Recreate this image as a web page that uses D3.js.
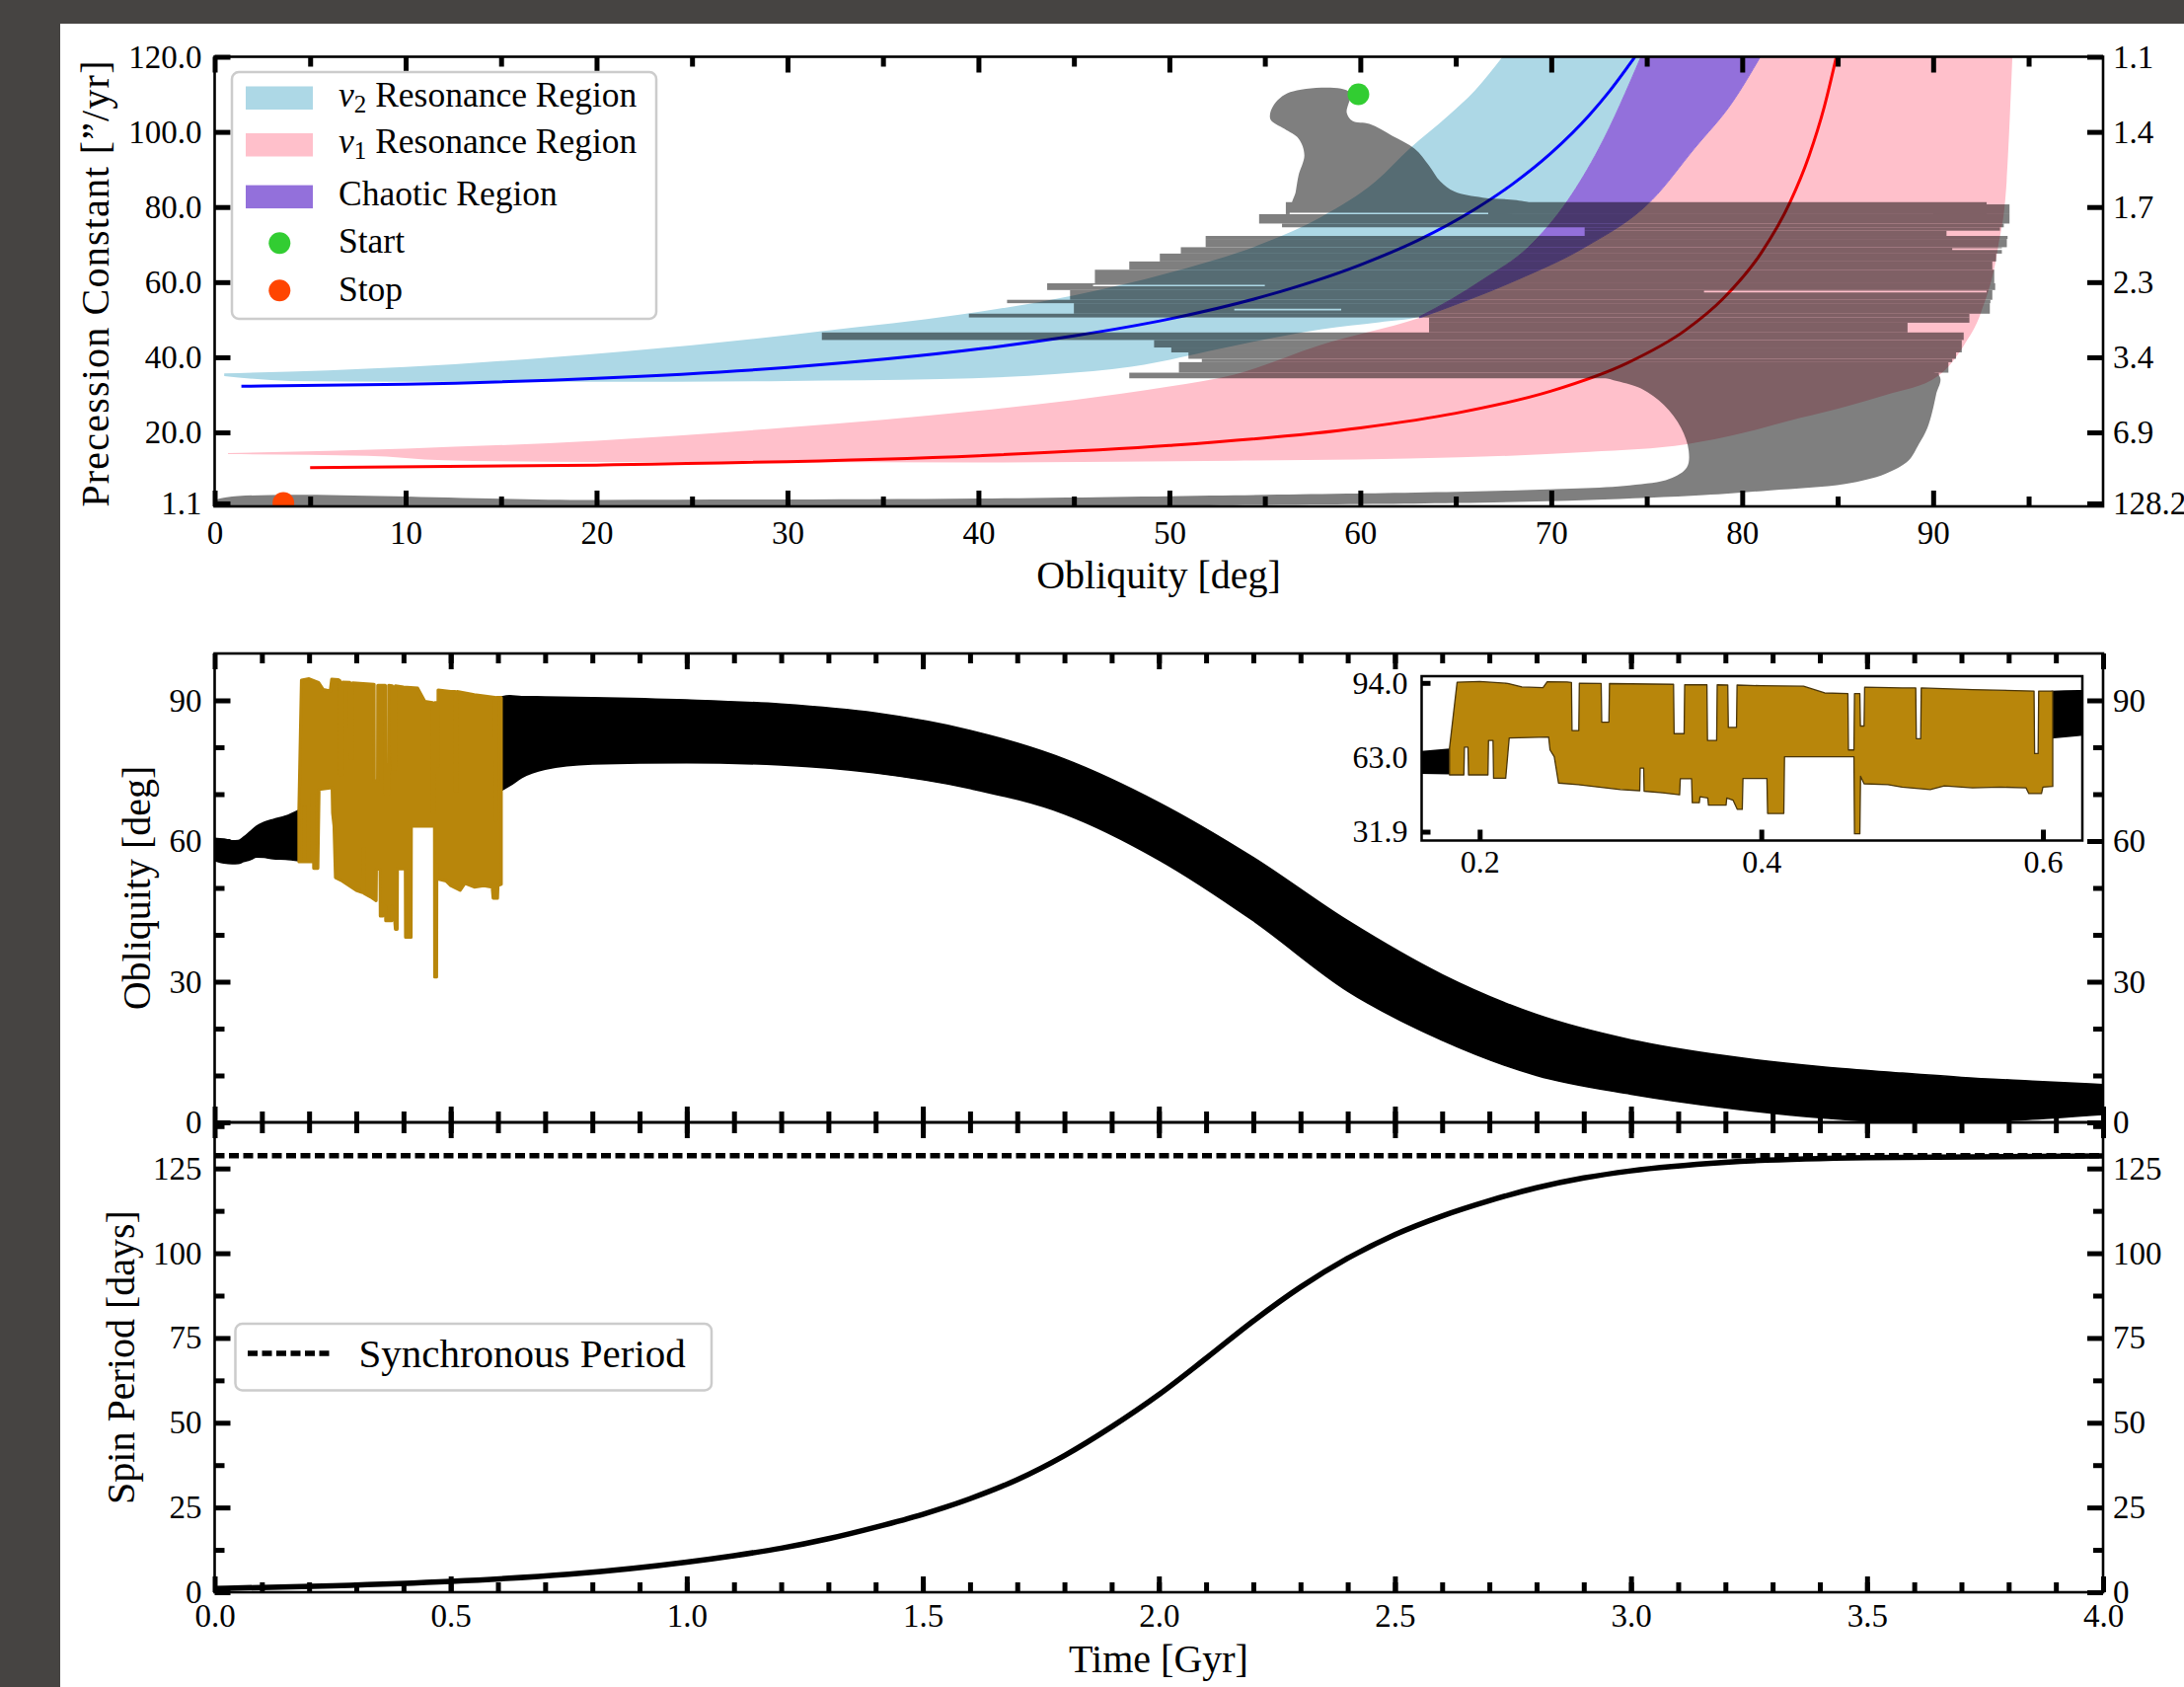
<!DOCTYPE html>
<html>
<head>
<meta charset="utf-8">
<script src="https://cdnjs.cloudflare.com/ajax/libs/d3/7.8.5/d3.min.js"></script>
<style>
  body { margin: 0; background: #464442; overflow: hidden; }
  svg { display: block; }
</style>
</head>
<body>
<script>
// ---- top panel: obliquity [deg] vs precession constant ["/yr]
var precTicks = [1.1, 20, 40, 60, 80, 100, 120];
var precTickLabels = ["1.1", "20.0", "40.0", "60.0", "80.0", "100.0", "120.0"];
var periodTickLabels = ["128.2", "6.9", "3.4", "2.3", "1.7", "1.4", "1.1"];
var oblTicks = [0, 10, 20, 30, 40, 50, 60, 70, 80, 90];
var oblMinor = [5, 15, 25, 35, 45, 55, 65, 75, 85, 95];

// resonance band edges, [obliquity, precession constant]
var nu2Upper = [[0.5,35.7],[10,37.4],[17.6,40.0],[25,43.2],[31.9,47.0],[39.1,51.4],[45,56.5],[50,62.5],[55,70.5],[58,77.5],[60.8,86.8],[62.6,95.6],[64.6,104.3],[66,111],[67.45,120]];
var nu2Lower = [[0.5,35.0],[4,33.7],[10,33.5],[20,33.5],[30,33.7],[38,34.2],[44,35.5],[48,37.5],[53.4,43.1],[58,47.5],[61,49.3],[63.1,50.8],[64.8,55.5],[66.4,60.6],[68.8,69.3],[70.9,82],[72.5,95.6],[74.7,120]];
var nu1Upper = [[0.7,14.5],[10,15.7],[20,17.8],[30,21.3],[40,25.8],[45,28.6],[50,32.2],[53.4,35.4],[57.8,43.1],[63.1,50.5],[68.2,60.6],[71.75,69.3],[75.3,82.0],[77.5,95.6],[79.5,108],[80.95,120]];
var nu1Lower = [[0.7,14.2],[8,13.8],[12,12.6],[20,12.1],[40,12.0],[53.4,12.45],[65.2,13.35],[72,14.8],[77.1,16.85],[80,19.8],[83,23.8],[85.5,27.0],[87.5,29.96],[90.3,35.2],[91.6,43.1],[92.5,51.8],[93.4,69.3],[93.85,86.8],[94.15,120]];
// resonance centres
var nu2Centre = [[1.4,32.3],[10,32.8],[20,34.4],[30,37.3],[40,42.2],[45,45.7],[50,50.2],[55,56.3],[60,64.6],[63,71.1],[66,79.4],[68,86.2],[70,94.4],[72,104.5],[73,110.5],[74.4,120.1]];
var nu1Centre = [[5,10.6],[20,11.3],[40,13.8],[50,16.5],[60,21.2],[65,25.1],[70,31.0],[74,38.5],[77,47.1],[79,55.6],[81,67.8],[82.5,81.2],[83.5,93.6],[84.3,106.7],[84.95,120.4]];

// spin-axis trajectory: head outline, horizontal strips [pLow, pHigh, oblLeft, oblRight], lower outline
var trajHead = [[56.33,110.6],[55.44,106.9],[55.29,103.4],[56.03,100.8],[56.77,98.2],[57.07,93.8],[56.77,88.5],[56.62,84.1],[56.47,79.5],[70,79.5],[68.19,81.8],[66.41,82.5],[64.93,84.1],[64.19,86.8],[63.59,91.1],[62.85,95.5],[61.66,99.0],[60.48,102.1],[59.59,102.9],[59.29,105.1],[59.44,110.6]];
var trajRows = [
  [78.1,81.3,56.1,92.8],[78.1,80.7,90,94.0],[75.6,78.1,54.7,94.0],[74.6,75.6,55.9,93.7],
  [73.7,74.6,71.75,93.5],[72.3,73.7,71.75,90.7],[71.5,72.3,51.9,93.9],[69.3,71.5,51.9,93.86],
  [67.6,69.3,50.6,93.6],[65.5,67.6,49.5,93.3],[63.3,65.5,47.9,93.1],[59.7,63.3,46.1,93.2],
  [57.9,59.7,43.6,93.25],[55.3,57.9,44.8,93.1],[54.4,55.3,41.5,93.0],[51.6,54.4,45.0,92.97],
  [50.6,51.6,39.5,91.9],[49.2,50.6,63.6,91.9],[46.6,49.2,63.6,88.66],[44.6,46.6,31.8,91.6],
  [42.6,44.6,49.2,91.5],[41.3,42.6,50.1,91.5],[39.6,41.3,51.0,91.2],[38.7,39.6,51.7,91.0],
  [35.9,38.7,50.5,90.8],[34.4,35.9,47.9,90.3]
];
// thin empty lines inside the trajectory [p, oblLeft, oblRight]
var trajGaps = [[78.3,56.3,66.7],[59.1,46.0,55.0],[57.5,78.0,92.8],[52.7,53.4,59.0],[68.8,91.0,94.0]];
var trajLower = [[72.6,35.2],[90.3,35.2],[90.15,29.96],[89.7,21.2],[89.25,16.85],[88.7,12.45],[87.5,9.0],[85.4,6.3],[81.5,4.6],[78,3.3],[72,2.0],[65,1.2],[55,0.7],[0,0.4],[0,1.8],[20,2.0],[40,2.4],[53.4,3.27],[59.3,3.7],[68.2,4.6],[74.1,5.9],[76.2,7.65],[77.1,10.7],[77.2,15.1],[76.8,21.2],[75.9,27.3],[74.7,31.7]];
var startPoint = [59.9, 110.0];
var stopPoint = [3.6, 1.2];

// ---- middle panel: obliquity vs time, [t, high, low]
var preChaos = [[0,60.6,55.85],[0.02,60.4,55.3],[0.037,60.06,55.15],[0.05,60.1,55.2],[0.061,60.8,55.6],[0.075,62.0,56.0],[0.089,63.2,56.6],[0.105,64.0,56.5],[0.124,64.6,56.2],[0.15,65.3,56.1],[0.1786,66.6,55.8]];
var postChaos = [[0.606,90.7,70.7],[0.625,91.0,71.8],[0.65,90.8,73.5],[0.7,90.75,75.3],[0.8,90.6,76.4],[1.0,90.1,76.7],[1.2,89.2,76.2],[1.4,87.3,74.5],[1.6,83.6,71.2],[1.8,77.5,65.8],[2.0,68.2,56.0],[2.2,56.5,43.0],[2.4,43.0,28.0],[2.6,31.5,17.5],[2.8,23.0,10.0],[3.0,17.6,6.0],[3.2,14.2,3.1],[3.4,11.9,1.0],[3.55,10.7,0.1],[3.7,9.6,0.0],[3.85,8.8,0.7],[4.0,8.05,1.7]];
// chaotic stretch, upper and lower envelope [t, obliquity]
var chaosTop = [[0.1786,66.8],[0.1840,94.3],[0.2000,94.6],[0.2200,93.8],[0.2300,92.3],[0.2450,92.0],[0.2480,94.5],[0.2620,94.4],
  [0.2652,94.2],[0.2656,74.1],[0.2704,74.1],[0.2708,93.9],[0.2863,93.8],[0.2867,77.6],[0.2918,77.6],[0.2922,93.7],
  [0.3377,93.4],[0.3381,72.8],[0.3452,72.8],[0.3456,93.2],[0.3614,93.2],[0.3618,70.0],[0.3683,70.0],[0.3687,93.2],
  [0.3762,93.1],[0.3766,75.4],[0.3824,75.4],[0.3828,93.1],[0.4000,92.8],[0.4300,92.6],[0.4450,89.8],[0.4615,89.5],
  [0.4619,66.0],[0.4658,66.0],[0.4662,89.5],[0.4700,89.5],[0.4704,76.0],[0.4730,76.0],[0.4734,92.2],[0.5000,91.9],
  [0.5097,91.9],[0.5101,70.7],[0.5132,70.7],[0.5136,91.9],[0.5500,91.2],[0.5937,90.6],[0.5941,64.5],[0.5966,64.5],
  [0.5970,90.6],[0.6070,90.6]];
var chaosBottom = [[0.1786,55.6],[0.1888,55.6],[0.1892,67.2],[0.1917,67.2],[0.1921,55.6],[0.2059,55.6],[0.2063,70.0],[0.2095,70.0],
  [0.2099,54.2],[0.2185,54.2],[0.2210,71.0],[0.2490,71.4],[0.2500,66.0],[0.2530,63.2],[0.2560,52.2],[0.2700,51.5],
  [0.2850,50.5],[0.3000,49.5],[0.3137,49.0],[0.3140,58.4],[0.3165,58.4],[0.3168,48.8],[0.3300,48.1],[0.3420,47.3],
  [0.3425,54.0],[0.3505,54.0],[0.3510,44.0],[0.3560,44.0],[0.3565,46.5],[0.3620,46.0],[0.3625,43.0],[0.3750,43.0],
  [0.3755,46.0],[0.3800,45.0],[0.3830,41.2],[0.3865,41.2],[0.3870,54.1],[0.4040,54.1],[0.4045,39.5],[0.4160,39.5],
  [0.4165,63.2],[0.4658,63.2],[0.4662,31.0],[0.4700,31.0],[0.4705,55.0],[0.4730,51.9],[0.4900,51.5],[0.5000,50.5],
  [0.5200,49.5],[0.5300,51.0],[0.5500,50.2],[0.5700,50.5],[0.5880,50.2],[0.5900,47.8],[0.5990,47.8],[0.6000,50.5],
  [0.6070,50.8]];
var midTicks = [0, 30, 60, 90];
var midMinor = [10, 20, 40, 50, 70, 80];
var insetYTicks = [31.9, 63.0, 94.0];
var insetXTicks = [0.2, 0.4, 0.6];

// ---- bottom panel: spin period vs time
var spinTime   = [0, 0.25, 0.5, 0.75, 1.0, 1.1, 1.2, 1.3, 1.4, 1.5, 1.6, 1.7, 1.8, 1.9, 2.0, 2.1, 2.2, 2.3, 2.4, 2.5, 2.6, 2.7, 2.8, 2.9, 3.0, 3.2, 3.5, 4.0];
var spinPeriod = [1.1, 1.9, 3.2, 5.3, 8.9, 10.8, 13.0, 15.8, 19.2, 23.0, 27.6, 33.2, 40.3, 48.8, 58.3, 69.0, 80.0, 90.0, 98.5, 105.5, 111.0, 115.5, 119.3, 122.2, 124.3, 126.8, 128.2, 128.7];
var syncPeriod = 128.8;
var timeTicks = [0, 0.5, 1.0, 1.5, 2.0, 2.5, 3.0, 3.5, 4.0];
var spinTicks = [0, 25, 50, 75, 100, 125];
var spinMinor = [12.5, 37.5, 62.5, 87.5, 112.5, 137.5];

var legendLabels = ["Resonance Region", "Resonance Region", "Chaotic Region", "Start", "Stop"];
var legendSubs = ["2", "1"];

var W = 2213, H = 1709;
var FONT = "'Liberation Serif', 'DejaVu Serif', serif";
var L = 217.5, R = 2131;

var svg = d3.select("body").append("svg").attr("width", W).attr("height", H);
svg.append("rect").attr("width", W).attr("height", H).attr("fill", "#464442");
svg.append("rect").attr("x", 61).attr("y", 24).attr("width", W - 61).attr("height", H - 24).attr("fill", "#fff");

var xObl = d3.scaleLinear().domain([0, 98.9]).range([L, R]);
var yPrec = d3.scaleLinear().domain([0.3, 120]).range([513, 57.5]);
var xTime = d3.scaleLinear().domain([0, 4]).range([L, R]);
var yObl = d3.scaleLinear().domain([0, 100]).range([1137, 662]);
var ySpin = d3.scaleLinear().domain([0, 138.6]).range([1613, 1137]);
var xIn = d3.scaleLinear().domain([0.1588, 0.628]).range([1440.5, 2110]);
var yIn = d3.scaleLinear().domain([28.2, 96.8]).range([851.5, 685]);

var defs = svg.append("defs");
function clip(id, x0, y0, x1, y1) {
  defs.append("clipPath").attr("id", id).append("rect")
    .attr("x", x0).attr("y", y0).attr("width", x1 - x0).attr("height", y1 - y0);
}
clip("cTop", L, 57.5, R, 513);
clip("cMid", L, 662, R, 1137);
clip("cBot", L, 1137, R, 1613);
clip("cIn", 1440.5, 685, 2110, 851.5);

// mask that opens the thin gaps of the trajectory
var mask = defs.append("mask").attr("id", "trajMask").attr("maskUnits", "userSpaceOnUse")
  .attr("x", 0).attr("y", 0).attr("width", W).attr("height", H);
mask.append("rect").attr("width", W).attr("height", H).attr("fill", "#fff");
mask.selectAll("line").data(trajGaps).join("line")
  .attr("x1", function(d) { return xObl(d[1]); }).attr("x2", function(d) { return xObl(d[2]); })
  .attr("y1", function(d) { return yPrec(d[0]); }).attr("y2", function(d) { return yPrec(d[0]); })
  .attr("stroke", "#000").attr("stroke-width", 1.6);

// ---------- top panel
var smooth = d3.line().curve(d3.curveMonotoneX).x(function(d) { return xObl(d[0]); }).y(function(d) { return yPrec(d[1]); });
var round = d3.line().curve(d3.curveCatmullRomClosed.alpha(0.5)).x(function(d) { return xObl(d[0]); }).y(function(d) { return yPrec(d[1]); });

function band(upper, lower) {
  var a = smooth(upper), b = smooth(lower.slice().reverse());
  return a + "L" + b.slice(1) + "Z";
}

var gTop = svg.append("g").attr("clip-path", "url(#cTop)");
gTop.append("path").attr("d", band(nu2Upper, nu2Lower)).attr("fill", "#add8e6");
gTop.append("path").attr("d", band(nu1Upper, nu1Lower)).attr("fill", "#ffc0cb");
gTop.append("path")
  .attr("d", band(nu2Lower.filter(function(d) { return d[0] >= 63.1; }), nu1Upper.filter(function(d) { return d[0] >= 63.1; })))
  .attr("fill", "#9370db").attr("stroke", "#9370db").attr("stroke-width", 1);
gTop.append("path").attr("d", smooth(nu2Centre)).attr("fill", "none").attr("stroke", "#0000ff").attr("stroke-width", 3);
gTop.append("path").attr("d", smooth(nu1Centre)).attr("fill", "none").attr("stroke", "#ff0000").attr("stroke-width", 3);

var gTraj = gTop.append("g").attr("mask", "url(#trajMask)").append("g").attr("opacity", 0.5).attr("fill", "#000");
gTraj.append("path").attr("d", round(trajHead));
gTraj.selectAll("rect").data(trajRows).join("rect")
  .attr("x", function(d) { return xObl(d[2]); })
  .attr("y", function(d) { return yPrec(d[1]); })
  .attr("width", function(d) { return xObl(d[3]) - xObl(d[2]); })
  .attr("height", function(d) { return yPrec(d[0]) - yPrec(d[1]); });
gTraj.append("path").attr("d", round(trajLower));

gTop.append("circle").attr("cx", xObl(startPoint[0])).attr("cy", yPrec(startPoint[1])).attr("r", 11).attr("fill", "#32cd32");
gTop.append("circle").attr("cx", xObl(stopPoint[0])).attr("cy", yPrec(stopPoint[1])).attr("r", 11).attr("fill", "#ff4500");

// ---------- middle panel
var areaMid = d3.area().curve(d3.curveMonotoneX)
  .x(function(d) { return xTime(d[0]); })
  .y0(function(d) { return yObl(d[2]); })
  .y1(function(d) { return yObl(d[1]); });
var chaosMid = d3.line().x(function(d) { return xTime(d[0]); }).y(function(d) { return yObl(d[1]); });
var chaosPoly = chaosTop.concat(chaosBottom.slice().reverse());

var gMid = svg.append("g").attr("clip-path", "url(#cMid)");
gMid.append("path").attr("d", areaMid(preChaos)).attr("fill", "#000").attr("stroke", "#000").attr("stroke-width", 1.5);
gMid.append("path").attr("d", areaMid(postChaos)).attr("fill", "#000").attr("stroke", "#000").attr("stroke-width", 1.5);
gMid.append("path").attr("d", chaosMid(chaosPoly) + "Z").attr("fill", "#b8860b")
  .attr("stroke", "#b8860b").attr("stroke-width", 3.2).attr("stroke-linejoin", "round");

// ---------- bottom panel
var gBot = svg.append("g").attr("clip-path", "url(#cBot)");
gBot.append("line").attr("x1", xTime(0)).attr("x2", xTime(4))
  .attr("y1", ySpin(syncPeriod)).attr("y2", ySpin(syncPeriod))
  .attr("stroke", "#000").attr("stroke-width", 5.5).attr("stroke-dasharray", "10,4.5");
var spinLine = d3.line().curve(d3.curveMonotoneX)
  .x(function(d, i) { return xTime(spinTime[i]); })
  .y(function(d) { return ySpin(d); });
gBot.append("path").attr("d", spinLine(spinPeriod)).attr("fill", "none").attr("stroke", "#000").attr("stroke-width", 5.5);

// ---------- axes
function axis(gen, scale, vals, inner, pad, fmt, tx, ty, fs) {
  var a = gen(scale).tickValues(vals).tickSizeInner(-inner).tickSizeOuter(0).tickPadding(pad).tickFormat(fmt);
  var g = svg.append("g").attr("transform", "translate(" + tx + "," + ty + ")").call(a);
  g.select(".domain").remove();
  g.attr("font-family", FONT).attr("font-size", fs || 33);
  g.selectAll(".tick line").attr("stroke", "#000").attr("stroke-width", 5);
  g.selectAll(".tick text").attr("fill", "#000");
  return g;
}
var none = function() { return ""; };
var f1 = d3.format(".1f");

// top panel axes
axis(d3.axisBottom, xObl, oblTicks, 16, 15, d3.format("d"), 0, 513);
axis(d3.axisBottom, xObl, oblMinor, 10, 0, none, 0, 513);
axis(d3.axisTop, xObl, oblTicks, 16, 0, none, 0, 57.5);
axis(d3.axisTop, xObl, oblMinor, 10, 0, none, 0, 57.5);
axis(d3.axisLeft, yPrec, precTicks, 16, 13, function(d, i) { return precTickLabels[i]; }, L, 0);
axis(d3.axisRight, yPrec, precTicks, 16, 10, function(d, i) { return periodTickLabels[i]; }, R, 0);

// middle panel axes
axis(d3.axisTop, xTime, timeTicks, 16, 0, none, 0, 662);
axis(d3.axisTop, xTime, d3.range(0.1, 4, 0.1), 10, 0, none, 0, 662);
axis(d3.axisBottom, xTime, timeTicks, 16, 0, none, 0, 1137);
axis(d3.axisBottom, xTime, d3.range(0.1, 4, 0.1), 11, 0, none, 0, 1137);
axis(d3.axisLeft, yObl, midTicks, 16, 13, d3.format("d"), L, 0);
axis(d3.axisLeft, yObl, midMinor, 10, 0, none, L, 0);
axis(d3.axisRight, yObl, midTicks, 16, 10, d3.format("d"), R, 0);
axis(d3.axisRight, yObl, midMinor, 10, 0, none, R, 0);

// bottom panel axes
axis(d3.axisTop, xTime, timeTicks, 16, 0, none, 0, 1137);
axis(d3.axisTop, xTime, d3.range(0.1, 4, 0.1), 11, 0, none, 0, 1137);
axis(d3.axisBottom, xTime, timeTicks, 16, 12, f1, 0, 1613);
axis(d3.axisBottom, xTime, d3.range(0.1, 4, 0.1), 10, 0, none, 0, 1613);
axis(d3.axisLeft, ySpin, spinTicks, 16, 13, d3.format("d"), L, 0);
axis(d3.axisLeft, ySpin, spinMinor, 10, 0, none, L, 0);
axis(d3.axisRight, ySpin, spinTicks, 16, 10, d3.format("d"), R, 0);
axis(d3.axisRight, ySpin, spinMinor, 10, 0, none, R, 0);

// spines
[[57.5, 513], [662, 1137], [1137, 1613]].forEach(function(p) {
  svg.append("rect").attr("x", L).attr("y", p[0]).attr("width", R - L).attr("height", p[1] - p[0])
    .attr("fill", "none").attr("stroke", "#000").attr("stroke-width", 2.6);
});

// ---------- inset
svg.append("rect").attr("x", 1440.5).attr("y", 685).attr("width", 2110 - 1440.5).attr("height", 851.5 - 685).attr("fill", "#fff");
var areaIn = d3.area().curve(d3.curveMonotoneX)
  .x(function(d) { return xIn(d[0]); })
  .y0(function(d) { return yIn(d[2]); })
  .y1(function(d) { return yIn(d[1]); });
var chaosIn = d3.line().x(function(d) { return xIn(d[0]); }).y(function(d) { return yIn(d[1]); });
var gIn = svg.append("g").attr("clip-path", "url(#cIn)");
gIn.append("path").attr("d", areaIn(preChaos)).attr("fill", "#000");
gIn.append("path").attr("d", areaIn(postChaos)).attr("fill", "#000");
gIn.append("path").attr("d", chaosIn(chaosPoly) + "Z").attr("fill", "#b8860b")
  .attr("stroke", "#4a3508").attr("stroke-width", 1.3).attr("stroke-linejoin", "round");
axis(d3.axisLeft, yIn, insetYTicks, 9, 14, f1, 1440.5, 0, 32);
axis(d3.axisBottom, xIn, insetXTicks, 11, 10, f1, 0, 851.5, 32);
svg.append("rect").attr("x", 1440.5).attr("y", 685).attr("width", 2110 - 1440.5).attr("height", 851.5 - 685)
  .attr("fill", "none").attr("stroke", "#000").attr("stroke-width", 2.5);

// ---------- axis titles
function title(txt, x, y, rot, ls) {
  svg.append("text").attr("transform", "translate(" + x + "," + y + ")" + (rot ? " rotate(-90)" : ""))
    .attr("text-anchor", "middle").attr("font-family", FONT).attr("font-size", 40)
    .attr("letter-spacing", ls || 0).attr("fill", "#000").text(txt);
}
title("Obliquity [deg]", 1174, 596);
title("Time [Gyr]", 1174, 1694);
title("Precession Constant [\u201D/yr]", 110, 287, true, 1.2);
title("Obliquity [deg]", 152, 899.5, true);
title("Spin Period [days]", 136, 1375, true);

// ---------- top legend
var leg = svg.append("g").attr("font-family", FONT).attr("font-size", 35.5);
leg.append("rect").attr("x", 235).attr("y", 73).attr("width", 430).attr("height", 250).attr("rx", 7)
  .attr("fill", "#fff").attr("fill-opacity", 0.8).attr("stroke", "#cccccc").attr("stroke-width", 2.5);
var rowBase = [107.5, 155, 207.6, 256.2, 304.5];
var rowPatch = ["#add8e6", "#ffc0cb", "#9370db"];
rowPatch.forEach(function(c, i) {
  leg.append("rect").attr("x", 249).attr("y", rowBase[i] - 20).attr("width", 68).attr("height", 23.5).attr("fill", c);
});
leg.append("circle").attr("cx", 283.3).attr("cy", 246.2).attr("r", 11).attr("fill", "#32cd32");
leg.append("circle").attr("cx", 283.3).attr("cy", 294.3).attr("r", 11).attr("fill", "#ff4500");
legendLabels.forEach(function(lab, i) {
  var t = leg.append("text").attr("x", 343).attr("y", rowBase[i]).attr("fill", "#000");
  if (i < 2) {
    t.append("tspan").attr("font-style", "italic").text("\u03BD");
    t.append("tspan").attr("font-size", 25).attr("dy", 6).text(legendSubs[i]);
    t.append("tspan").attr("dy", -6).text(" " + lab);
  } else {
    t.text(lab);
  }
});

// ---------- bottom legend
var leg2 = svg.append("g").attr("font-family", FONT).attr("font-size", 41);
leg2.append("rect").attr("x", 238.5).attr("y", 1341).attr("width", 482.5).attr("height", 67.5).attr("rx", 7)
  .attr("fill", "#fff").attr("fill-opacity", 0.8).attr("stroke", "#cccccc").attr("stroke-width", 2.5);
leg2.append("line").attr("x1", 251).attr("x2", 337).attr("y1", 1371).attr("y2", 1371)
  .attr("stroke", "#000").attr("stroke-width", 5.5).attr("stroke-dasharray", "10,4.5");
leg2.append("text").attr("x", 363.4).attr("y", 1385.3).attr("fill", "#000").text("Synchronous Period");
</script>
</body>
</html>
